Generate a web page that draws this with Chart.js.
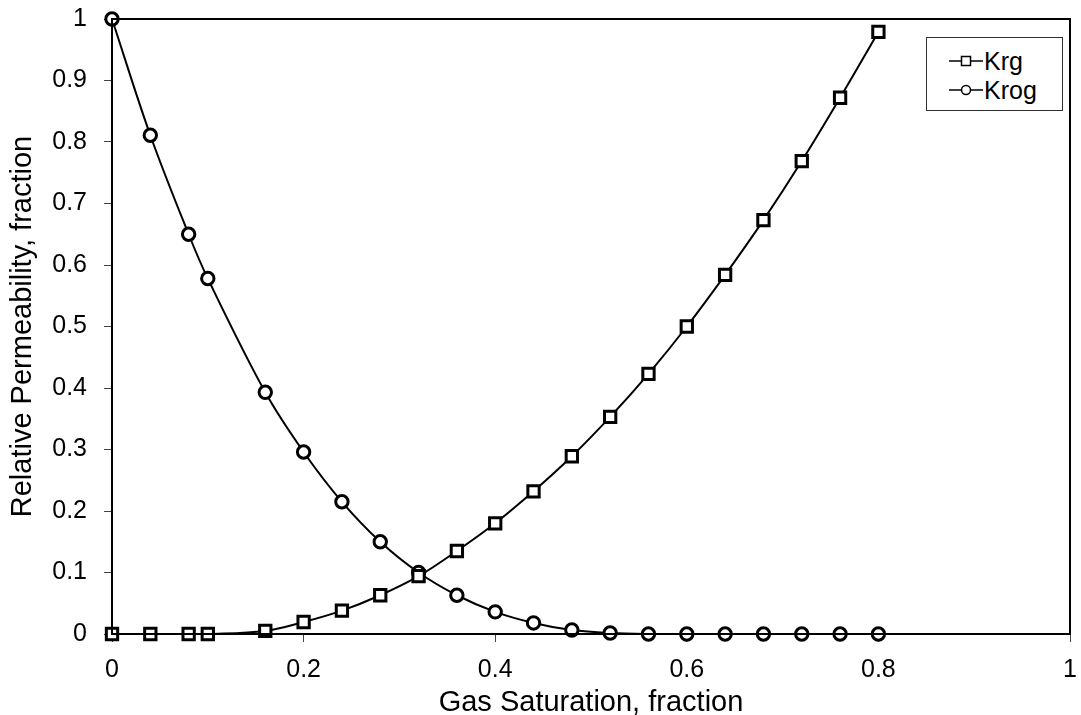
<!DOCTYPE html>
<html>
<head>
<meta charset="utf-8">
<title>Relative Permeability vs Gas Saturation</title>
<script src="https://cdn.jsdelivr.net/npm/chart.js@4/dist/chart.umd.min.js"></script>
<style>
  html, body { margin: 0; padding: 0; background: #fff; }
  #wrap { position: relative; width: 1081px; height: 715px; }
  #chart { position: absolute; left: 0; top: 0; }
  #legend {
    position: absolute; left: 926px; top: 37px; width: 135px; height: 72px;
    border: 1px solid #303030; background: #fff;
    font-family: "Liberation Sans", Arial, sans-serif; font-size: 25px; color: #000;
  }
  .row { position: absolute; left: 22px; height: 30px; display: flex; align-items: center; }
  .row svg { display: block; margin-right: 1px; }
</style>
</head>
<body>
<div id="wrap">
  <canvas id="chart" width="1081" height="715"></canvas>
  <div id="legend">
    <div class="row" style="top:8px">
      <svg width="34" height="14" viewBox="0 0 34 14">
        <line x1="0" y1="7" x2="34" y2="7" stroke="#000" stroke-width="1.5"/>
        <rect x="12.5" y="2.5" width="9" height="9" fill="#fff" stroke="#000" stroke-width="1.5"/>
      </svg><span>Krg</span>
    </div>
    <div class="row" style="top:37px">
      <svg width="34" height="14" viewBox="0 0 34 14">
        <line x1="0" y1="7" x2="34" y2="7" stroke="#000" stroke-width="1.5"/>
        <circle cx="17" cy="7" r="4.5" fill="#fff" stroke="#000" stroke-width="1.5"/>
      </svg><span>Krog</span>
    </div>
  </div>
</div>
<script>
// Gas saturation (fraction) at each measured point
const gasSaturation = [0, 0.04, 0.08, 0.1, 0.16, 0.2, 0.24, 0.28, 0.32, 0.36, 0.4,
                       0.44, 0.48, 0.52, 0.56, 0.6, 0.64, 0.68, 0.72, 0.76, 0.8];
// Gas relative permeability
const krg  = [0, 0, 0, 0, 0.005, 0.0195, 0.038, 0.063, 0.094, 0.135, 0.18,
              0.232, 0.289, 0.353, 0.423, 0.5, 0.584, 0.673, 0.769, 0.872, 0.979];
// Oil relative permeability in the presence of gas
const krog = [1.0, 0.811, 0.65, 0.578, 0.393, 0.296, 0.215, 0.15, 0.1, 0.063, 0.036,
              0.018, 0.0065, 0.0016, 0, 0, 0, 0, 0, 0, 0];
// Axis tick values
const xTicks = [0, 0.2, 0.4, 0.6, 0.8, 1];
const yTicks = [0, 0.1, 0.2, 0.3, 0.4, 0.5, 0.6, 0.7, 0.8, 0.9, 1];

const FONT = '"Liberation Sans", Arial, sans-serif';

const toPoints = ys => gasSaturation.map((x, i) => ({ x: x, y: ys[i] }));

// Black frame around the whole plot area
const plotFrame = {
  id: 'plotFrame',
  afterDatasetsDraw(chart) {
    const a = chart.chartArea, ctx = chart.ctx;
    ctx.save();
    ctx.strokeStyle = '#000';
    ctx.lineWidth = 2;
    ctx.strokeRect(a.left, a.top, a.right - a.left, a.bottom - a.top);
    ctx.restore();
  }
};

const seriesStyle = {
  borderColor: '#000',
  borderWidth: 2,
  backgroundColor: '#fff',
  pointBackgroundColor: '#fff',
  pointBorderColor: '#000',
  pointBorderWidth: 3,
  tension: 0.35,
  clip: false
};

new Chart(document.getElementById('chart'), {
  type: 'scatter',
  data: {
    datasets: [
      Object.assign({ label: 'Krg', data: toPoints(krg), showLine: true,
                      pointStyle: 'rect', pointRadius: 8 }, seriesStyle),
      Object.assign({ label: 'Krog', data: toPoints(krog), showLine: true,
                      pointStyle: 'circle', pointRadius: 6.2 }, seriesStyle)
    ]
  },
  plugins: [plotFrame],
  options: {
    responsive: false,
    animation: false,
    layout: { padding: { top: 19, right: 6, left: 0, bottom: 0 } },
    plugins: { legend: { display: false }, tooltip: { enabled: false } },
    scales: {
      x: {
        type: 'linear', min: 0, max: 1,
        afterBuildTicks: s => { s.ticks = xTicks.map(v => ({ value: v })); },
        afterFit: s => { s.height = 81; s.paddingLeft = 0; s.paddingRight = 0; },
        ticks: { color: '#000', font: { family: FONT, size: 25 }, padding: 13,
                 maxRotation: 0, autoSkip: false, callback: v => String(v) },
        grid: { drawOnChartArea: false, drawTicks: true, tickLength: 8, color: '#444', lineWidth: 1 },
        border: { display: true, color: '#000', width: 2 },
        title: { display: true, text: 'Gas Saturation, fraction', color: '#000',
                 font: { family: FONT, size: 29, lineHeight: 0.8 }, padding: { top: 0, bottom: 0 } }
      },
      y: {
        type: 'linear', min: 0, max: 1,
        afterBuildTicks: s => { s.ticks = yTicks.map(v => ({ value: v })); },
        afterFit: s => { s.width = 112; s.paddingTop = 0; s.paddingBottom = 0; },
        ticks: { color: '#000', font: { family: FONT, size: 25 }, padding: 17,
                 autoSkip: false, callback: v => String(v) },
        grid: { drawOnChartArea: false, drawTicks: true, tickLength: 8, color: '#444', lineWidth: 1 },
        border: { display: true, color: '#000', width: 2 },
        title: { display: true, text: 'Relative Permeability, fraction', color: '#000',
                 font: { family: FONT, size: 29, lineHeight: 1 }, padding: { top: 8, bottom: 0 } }
      }
    }
  }
});
</script>
</body>
</html>
